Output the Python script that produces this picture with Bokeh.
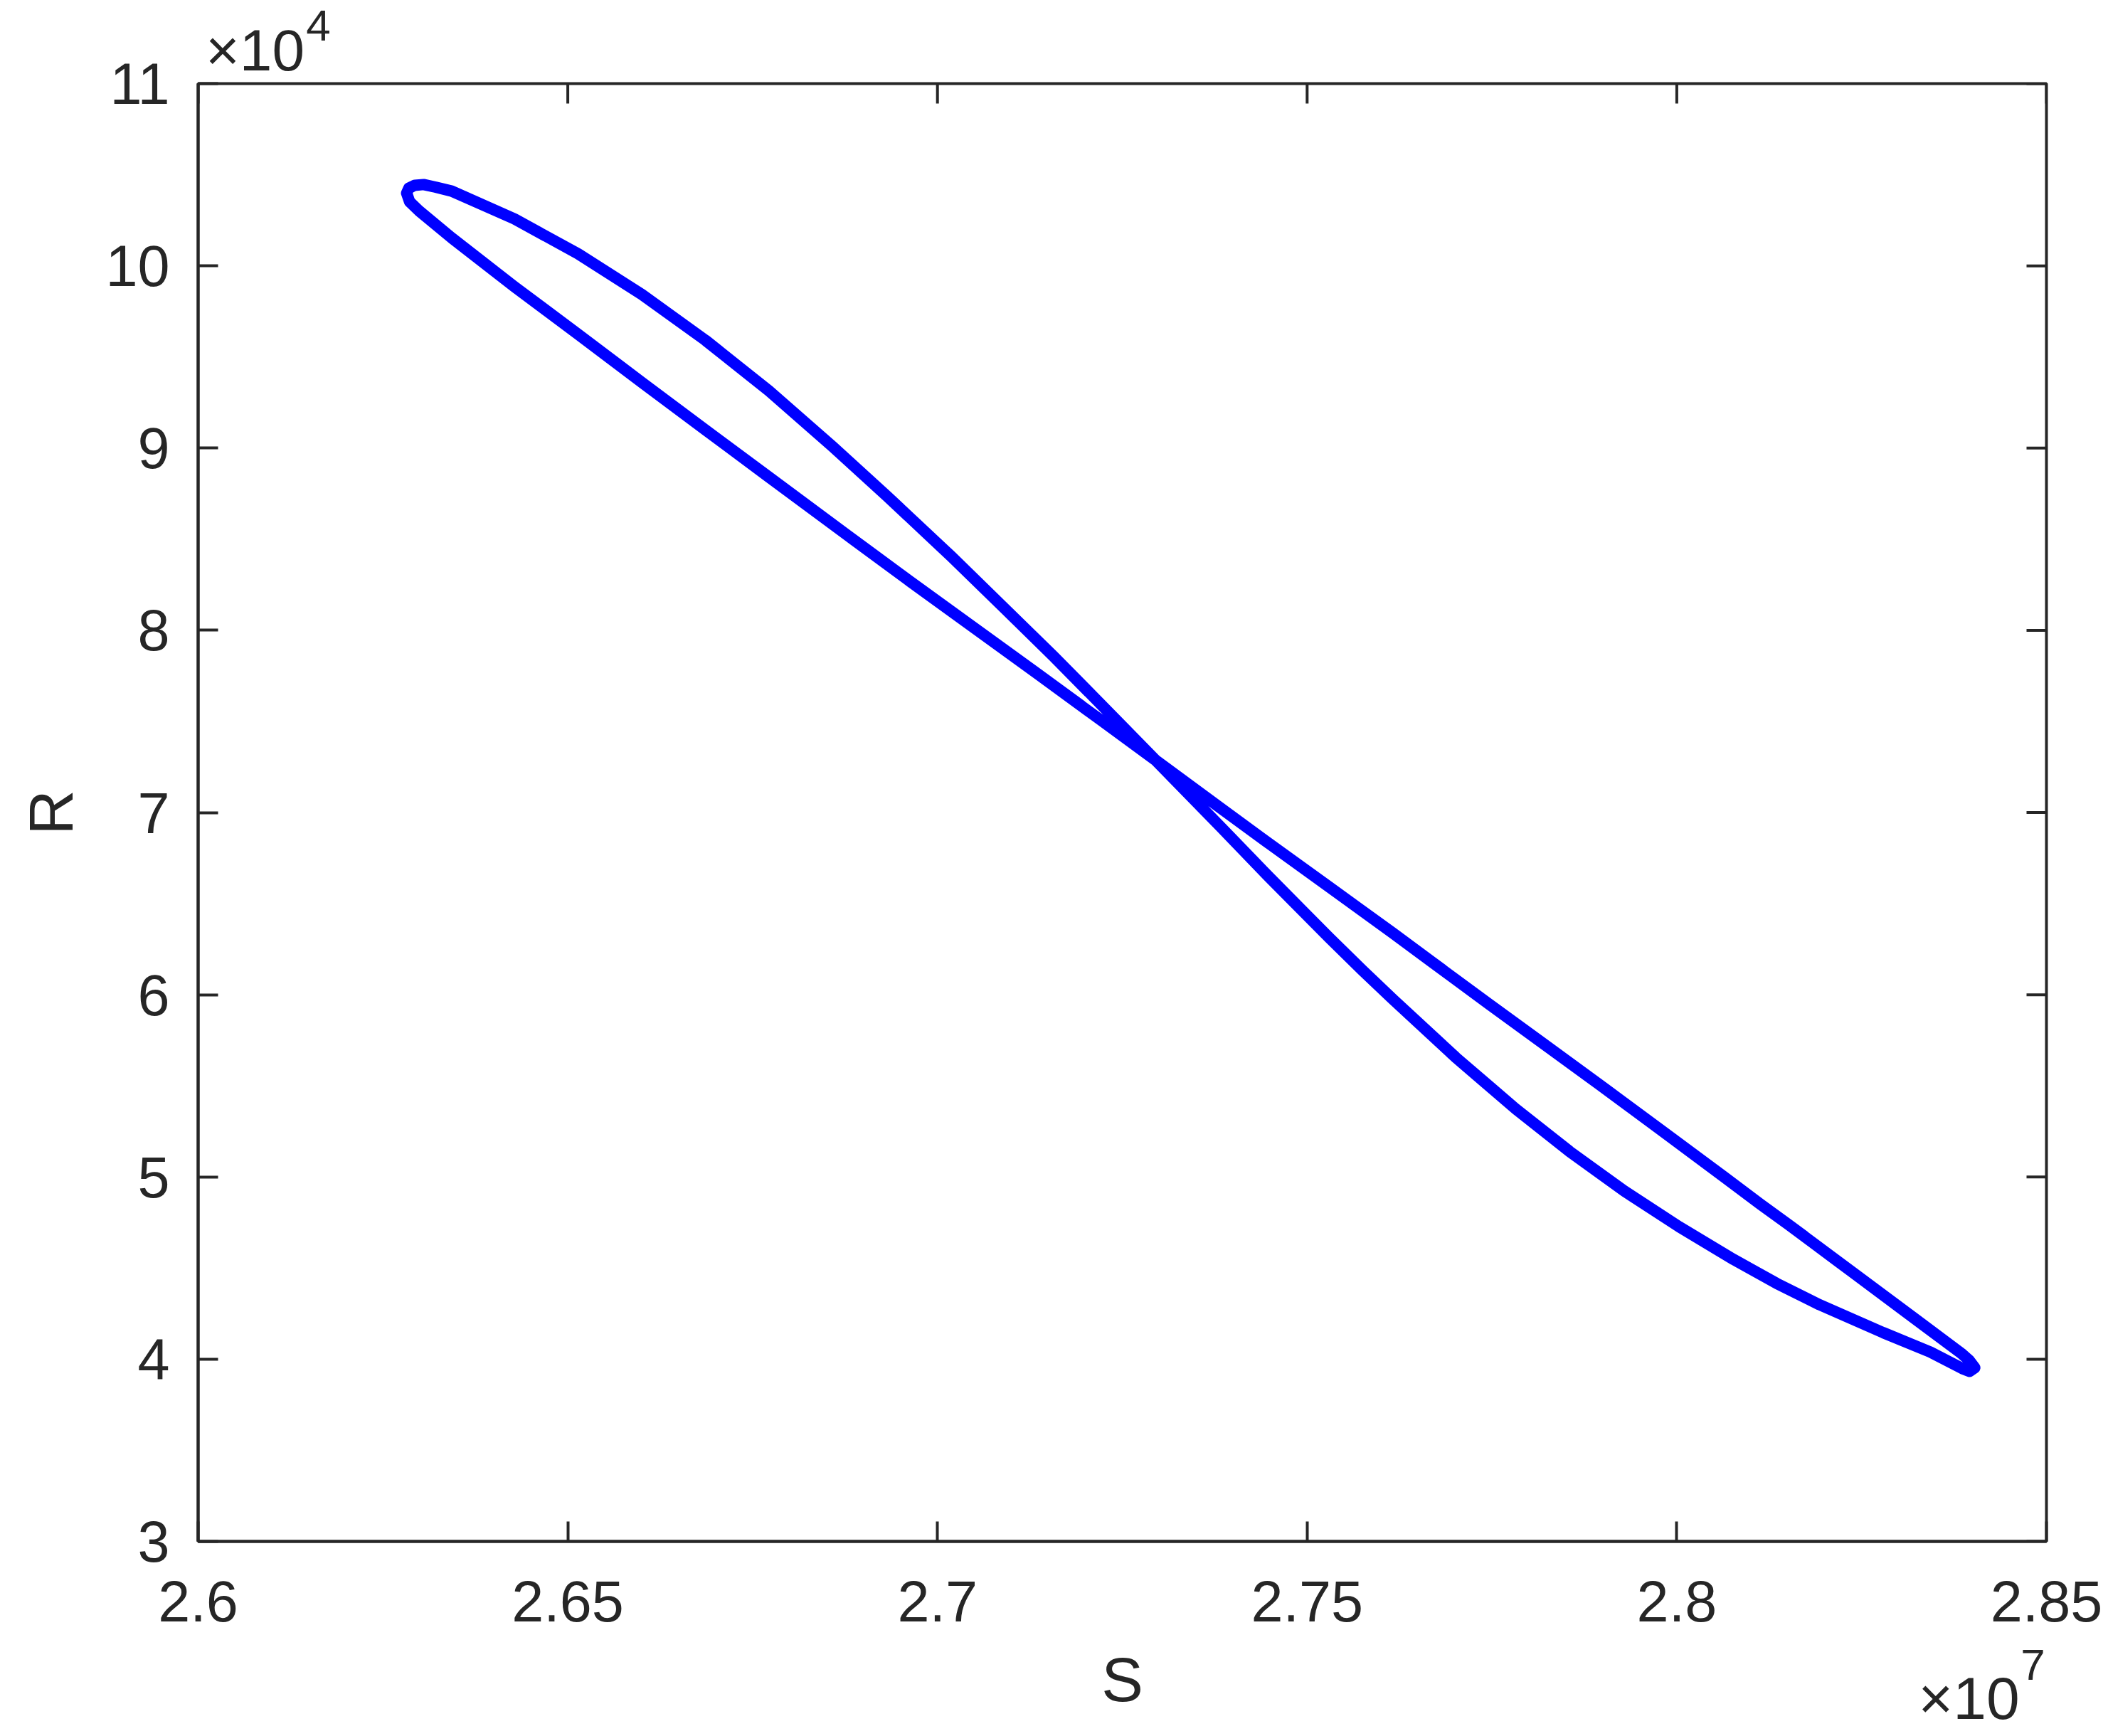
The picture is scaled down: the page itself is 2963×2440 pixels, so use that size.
import numpy as np
from bokeh.plotting import figure
from bokeh.models import Range1d, FixedTicker, LinearAxis, CustomJSTickFormatter
from bokeh.embed import file_html
from bokeh.resources import INLINE

# ---- data (S in units of 1e7, R in units of 1e4), one closed limit cycle ----
S_e7 = [2.6282, 2.6285, 2.6293, 2.6305, 2.6321, 2.6343, 2.6428, 2.6514, 2.6600, 2.6686,
        2.6772, 2.6858, 2.6932, 2.7019, 2.7091, 2.7157, 2.7220, 2.7298, 2.7384, 2.7448,
        2.7530, 2.7575, 2.7616, 2.7701, 2.7782, 2.7855, 2.7929, 2.8003, 2.8077, 2.8135,
        2.8193, 2.8279, 2.8343, 2.8386, 2.8396, 2.8403, 2.8395,
        2.8386, 2.8322, 2.8236, 2.8151, 2.8113, 2.8064, 2.7978, 2.7893, 2.7819, 2.7745,
        2.7668, 2.7616, 2.7530, 2.7444, 2.7380, 2.7298, 2.7220, 2.7135, 2.7049, 2.6963,
        2.6877, 2.6772, 2.6686, 2.6600, 2.6514, 2.6428, 2.6343, 2.6299, 2.6286, 2.6282]
R_e4 = [10.399, 10.426, 10.442, 10.446, 10.432, 10.410, 10.257, 10.066, 9.843, 9.592,
        9.314, 9.009, 8.735, 8.404, 8.119, 7.857, 7.598, 7.275, 6.917, 6.648,
        6.312, 6.133, 5.975, 5.656, 5.374, 5.140, 4.923, 4.727, 4.547, 4.416,
        4.299, 4.146, 4.039, 3.949, 3.933, 3.953, 3.996,
        4.028, 4.222, 4.482, 4.739, 4.851, 5.000, 5.259, 5.514, 5.733, 5.952,
        6.182, 6.338, 6.591, 6.843, 7.033, 7.278, 7.510, 7.762, 8.015, 8.268,
        8.525, 8.841, 9.100, 9.361, 9.624, 9.885, 10.153, 10.301, 10.352, 10.399]

x_ticks_e7 = [2.6, 2.65, 2.7, 2.75, 2.8, 2.85]
y_ticks_e4 = [3, 4, 5, 6, 7, 8, 9, 10, 11]

S = np.array(S_e7) * 1e7
R = np.array(R_e4) * 1e4
xt = [round(v * 1e7) for v in x_ticks_e7]
yt = [round(v * 1e4) for v in y_ticks_e4]

TXT = "#262626"
FONT = "Liberation Sans"
X0, X1, Y0, Y1 = 2.6e7, 2.85e7, 3e4, 11e4

# canvas geometry: frame at left 278, top 117, right 2876, bottom 2166
W, H = 2960, 2436
BL, BR, BT, BB = 278, 84, 117, 270

p = figure(width=W, height=H, output_backend="svg", toolbar_location=None,
           x_range=Range1d(X0, X1), y_range=Range1d(Y0, Y1),
           min_border_left=BL, min_border_right=BR, min_border_top=BT, min_border_bottom=BB,
           background_fill_color="white", border_fill_color="white")
p.grid.visible = False
p.outline_line_color = TXT
p.outline_line_width = 4

p.line(S, R, line_width=16, line_color="#0000FF", line_join="round", line_cap="round")

# inward ticks on the top and right edges (box)
p.ray(x=xt, y=[Y1] * len(xt), length=28, length_units="screen", angle=-np.pi / 2,
      line_color=TXT, line_width=4)
p.ray(x=[X1] * len(yt), y=yt, length=28, length_units="screen", angle=np.pi,
      line_color=TXT, line_width=4)

xfmt = CustomJSTickFormatter(code="return String(Math.round(tick/1e5)/100);")
yfmt = CustomJSTickFormatter(code="return String(Math.round(tick/1e3)/10);")

def style(ax, size="81px"):
    ax.axis_line_color = TXT
    ax.axis_line_width = 4
    ax.major_tick_line_color = TXT
    ax.major_tick_line_width = 4
    ax.major_tick_in = 28
    ax.major_tick_out = 0
    ax.minor_tick_line_color = None
    ax.major_label_text_font = FONT
    ax.major_label_text_color = TXT
    ax.major_label_text_font_size = size
    ax.axis_label_text_font = FONT
    ax.axis_label_text_color = TXT
    ax.axis_label_text_font_style = "normal"
    ax.axis_label_text_font_size = "88px"

def text_row(pos, text, size, standoff, side):
    ax = LinearAxis(ticker=FixedTicker(ticks=[pos]),
                    formatter=CustomJSTickFormatter(code="return %r;" % text))
    style(ax, size)
    ax.axis_line_color = None
    ax.major_tick_line_color = None
    ax.major_tick_in = 0
    ax.major_tick_out = 0
    ax.major_label_standoff = standoff
    p.add_layout(ax, side)
    return ax

xa = p.xaxis[0]
xa.ticker = FixedTicker(ticks=xt)
xa.formatter = xfmt
style(xa)
xa.major_label_standoff = 55

ya = p.yaxis[0]
ya.ticker = FixedTicker(ticks=yt)
ya.formatter = yfmt
style(ya)
ya.major_label_standoff = 40
ya.axis_label = "R"
ya.axis_label_standoff = 24

# text positions along the x direction (centres of the texts)
x10_top_pos = 2.60770e7   # "x10" of the R multiplier
exp_top_pos = 2.61626e7   # its exponent "4"
S_title_pos = (X0 + X1) / 2
x10_bot_pos = 2.83951e7   # "x10" of the S multiplier
exp_bot_pos = 2.84817e7   # its exponent "7"

# multiplier of R, above the top-left corner
text_row(x10_top_pos, "\u00d710", "82px", 2, "above")
text_row(exp_top_pos, "4", "62px", -35, "above")

# below the x tick labels: exponent "7", then the axis title "S", then "x10"
text_row(exp_bot_pos, "7", "62px", 37, "below")
text_row(S_title_pos, "S", "88px", -53, "below")
text_row(x10_bot_pos, "\u00d710", "84px", -73, "below")

open("out.html", "w", encoding="utf-8").write(file_html(p, INLINE))
